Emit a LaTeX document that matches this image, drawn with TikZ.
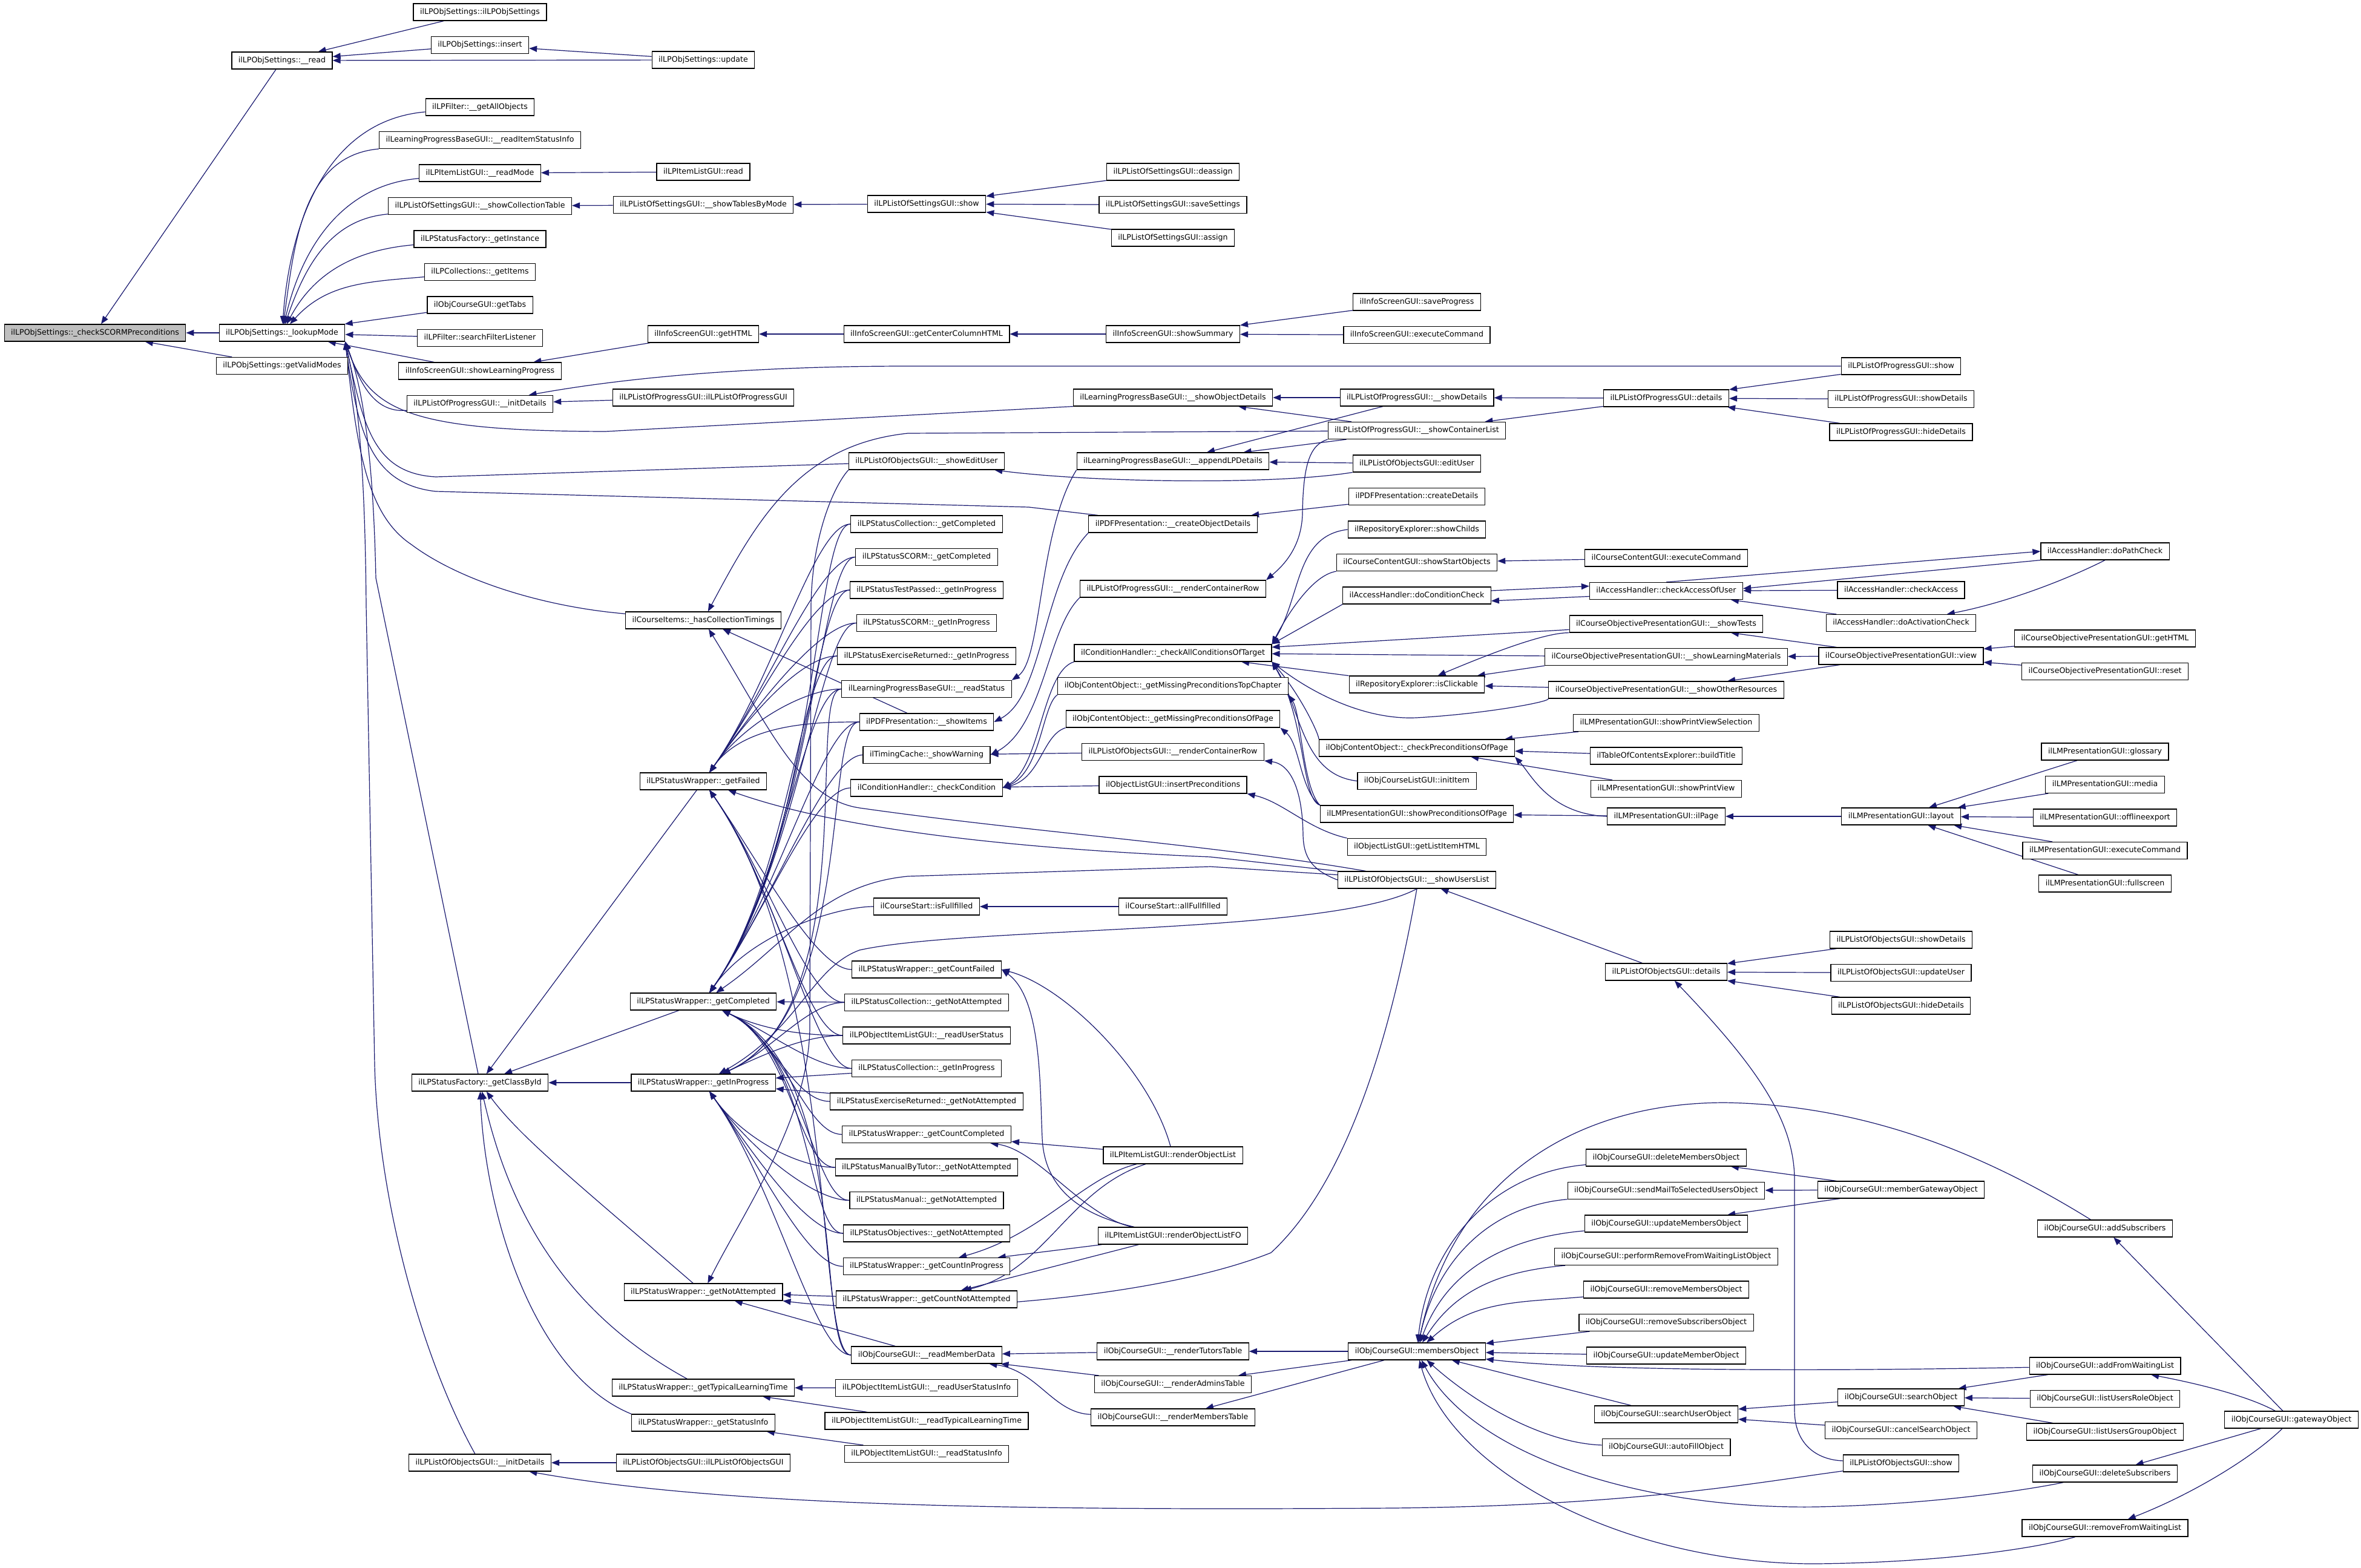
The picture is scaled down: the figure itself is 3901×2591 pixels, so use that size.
\documentclass[tikz,border=0pt]{standalone}
\usepackage{fontspec}
\setmainfont{DejaVu Sans}
\usetikzlibrary{positioning,arrows.meta}
\definecolor{edgeblue}{HTML}{191970}
\pgfdeclarelayer{background}
\pgfsetlayers{background,main}
\newcommand{\fnfont}{\fontsize{12.6pt}{14pt}\selectfont}

\begin{document}
\begin{tikzpicture}[x=1pt,y=1pt]

	\tikzstyle{fnbox}=[draw=black, line width=1.2pt, fill=white, rectangle, font=\fnfont, inner xsep=11pt, inner ysep=0pt, minimum height=28pt, text height=9.6pt, text depth=3pt];
	\tikzstyle{rootbox}=[fnbox, fill=black!25];
	\tikzstyle{call}=[draw=edgeblue, line width=1.2pt, <-];
	\tikzstyle{upfan}=[out=55, in=180, in max distance=60pt];
	\tikzstyle{downfan}=[out=-55, in=180, in max distance=60pt];

	\useasboundingbox (0,0) rectangle (3901,-2591);

    \begin{scope}[>={Triangle[length=13pt,width=10pt]}]

    	% root and settings
    	\node (root) at (157,-550) [rootbox]{ilLPObjSettings::\_checkSCORMPreconditions};
    	\node (read) at (466,-100) [fnbox]{ilLPObjSettings::\_\_read};
    	\node (lookup) at (466,-550) [fnbox]{ilLPObjSettings::\_lookupMode};
    	\node (validmodes) [below = 25.3pt of lookup, fnbox]{ilLPObjSettings::getValidModes};

    	\node (ctor) at (793,-20) [fnbox]{ilLPObjSettings::ilLPObjSettings};
    	\node (insert) [below = 25.3pt of ctor, fnbox]{ilLPObjSettings::insert};
    	\node (getallobj) at (793,-177) [fnbox]{ilLPFilter::\_\_getAllObjects};
    	\node (readitemstatus) [below = 25.3pt of getallobj, fnbox]{ilLearningProgressBaseGUI::\_\_readItemStatusInfo};
    	\node (readmode) [below = 25.3pt of readitemstatus, fnbox]{ilLPItemListGUI::\_\_readMode};
    	\node (showcolltable) [below = 25.3pt of readmode, fnbox]{ilLPListOfSettingsGUI::\_\_showCollectionTable};
    	\node (getinstance) [below = 25.3pt of showcolltable, fnbox]{ilLPStatusFactory::\_getInstance};
    	\node (getitems) [below = 25.3pt of getinstance, fnbox]{ilLPCollections::\_getItems};
    	\node (gettabs) [below = 25.3pt of getitems, fnbox]{ilObjCourseGUI::getTabs};
    	\node (searchfilter) [below = 25.3pt of gettabs, fnbox]{ilLPFilter::searchFilterListener};
    	\node (showlp) [below = 25.3pt of searchfilter, fnbox]{ilInfoScreenGUI::showLearningProgress};
    	\node (progressinit) [below = 25.3pt of showlp, fnbox]{ilLPListOfProgressGUI::\_\_initDetails};
    	\node (getclassbyid) at (793,-1789) [fnbox]{ilLPStatusFactory::\_getClassById};
    	\node (objectsinit) at (793,-2417) [fnbox]{ilLPListOfObjectsGUI::\_\_initDetails};

    	% wrappers
    	\node (update) at (1162,-99) [fnbox]{ilLPObjSettings::update};
    	\node (itemlistread) at (1162,-284) [fnbox]{ilLPItemListGUI::read};
    	\node (tablesbymode) [below = 25.3pt of itemlistread, fnbox]{ilLPListOfSettingsGUI::\_\_showTablesByMode};
    	\node (infogethtml) at (1162,-552) [fnbox]{ilInfoScreenGUI::getHTML};
    	\node (progressctor) at (1162,-657) [fnbox]{ilLPListOfProgressGUI::ilLPListOfProgressGUI};
    	\node (colltimings) at (1162,-1025) [fnbox]{ilCourseItems::\_hasCollectionTimings};
    	\node (wfailed) at (1162,-1291) [fnbox]{ilLPStatusWrapper::\_getFailed};
    	\node (wcompleted) at (1162,-1655) [fnbox]{ilLPStatusWrapper::\_getCompleted};
    	\node (winprogress) at (1162,-1789) [fnbox]{ilLPStatusWrapper::\_getInProgress};
    	\node (wnotattempted) at (1162,-2135) [fnbox]{ilLPStatusWrapper::\_getNotAttempted};
    	\node (wtypical) at (1162,-2293) [fnbox]{ilLPStatusWrapper::\_getTypicalLearningTime};
    	\node (wstatusinfo) at (1162,-2351) [fnbox]{ilLPStatusWrapper::\_getStatusInfo};
    	\node (objectsctor) at (1162,-2417) [fnbox]{ilLPListOfObjectsGUI::ilLPListOfObjectsGUI};

    	% status classes
    	\node (settingsshow) at (1531,-337) [fnbox]{ilLPListOfSettingsGUI::show};
    	\node (centercol) at (1531,-552) [fnbox]{ilInfoScreenGUI::getCenterColumnHTML};
    	\node (showedituser) at (1531,-762) [fnbox]{ilLPListOfObjectsGUI::\_\_showEditUser};
    	\node (collcompleted) at (1531,-866) [fnbox]{ilLPStatusCollection::\_getCompleted};
    	\node (scormcompleted) [below = 25.3pt of collcompleted, fnbox]{ilLPStatusSCORM::\_getCompleted};
    	\node (testinprogress) [below = 25.3pt of scormcompleted, fnbox]{ilLPStatusTestPassed::\_getInProgress};
    	\node (scorminprogress) [below = 25.3pt of testinprogress, fnbox]{ilLPStatusSCORM::\_getInProgress};
    	\node (exinprogress) [below = 25.3pt of scorminprogress, fnbox]{ilLPStatusExerciseReturned::\_getInProgress};
    	\node (readstatus) [below = 25.3pt of exinprogress, fnbox]{ilLearningProgressBaseGUI::\_\_readStatus};
    	\node (showitems) [below = 25.3pt of readstatus, fnbox]{ilPDFPresentation::\_\_showItems};
    	\node (showwarning) [below = 25.3pt of showitems, fnbox]{ilTimingCache::\_showWarning};
    	\node (checkcondition) [below = 25.3pt of showwarning, fnbox]{ilConditionHandler::\_checkCondition};
    	\node (isfullfilled) at (1531,-1498) [fnbox]{ilCourseStart::isFullfilled};
    	\node (countfailed) at (1531,-1602) [fnbox]{ilLPStatusWrapper::\_getCountFailed};
    	\node (collnotattempted) [below = 25.3pt of countfailed, fnbox]{ilLPStatusCollection::\_getNotAttempted};
    	\node (readuserstatus) [below = 25.3pt of collnotattempted, fnbox]{ilLPObjectItemListGUI::\_\_readUserStatus};
    	\node (collinprogress) [below = 25.3pt of readuserstatus, fnbox]{ilLPStatusCollection::\_getInProgress};
    	\node (exnotattempted) [below = 25.3pt of collinprogress, fnbox]{ilLPStatusExerciseReturned::\_getNotAttempted};
    	\node (countcompleted) [below = 25.3pt of exnotattempted, fnbox]{ilLPStatusWrapper::\_getCountCompleted};
    	\node (tutornotattempted) [below = 25.3pt of countcompleted, fnbox]{ilLPStatusManualByTutor::\_getNotAttempted};
    	\node (manualnotattempted) [below = 25.3pt of tutornotattempted, fnbox]{ilLPStatusManual::\_getNotAttempted};
    	\node (objnotattempted) [below = 25.3pt of manualnotattempted, fnbox]{ilLPStatusObjectives::\_getNotAttempted};
    	\node (countinprogress) [below = 25.3pt of objnotattempted, fnbox]{ilLPStatusWrapper::\_getCountInProgress};
    	\node (countnotattempted) [below = 25.3pt of countinprogress, fnbox]{ilLPStatusWrapper::\_getCountNotAttempted};
    	\node (readmemberdata) at (1531,-2239) [fnbox]{ilObjCourseGUI::\_\_readMemberData};
    	\node (readuserstatusinfo) [below = 25.3pt of readmemberdata, fnbox]{ilLPObjectItemListGUI::\_\_readUserStatusInfo};
    	\node (readtypical) [below = 25.3pt of readuserstatusinfo, fnbox]{ilLPObjectItemListGUI::\_\_readTypicalLearningTime};
    	\node (readstatusinfo) [below = 25.3pt of readtypical, fnbox]{ilLPObjectItemListGUI::\_\_readStatusInfo};

    	% fifth column
    	\node (deassign) at (1938,-284) [fnbox]{ilLPListOfSettingsGUI::deassign};
    	\node (savesettings) [below = 25.3pt of deassign, fnbox]{ilLPListOfSettingsGUI::saveSettings};
    	\node (assign) [below = 25.3pt of savesettings, fnbox]{ilLPListOfSettingsGUI::assign};
    	\node (showsummary) at (1938,-552) [fnbox]{ilInfoScreenGUI::showSummary};
    	\node (showobjdetails) at (1938,-657) [fnbox]{ilLearningProgressBaseGUI::\_\_showObjectDetails};
    	\node (appendlp) at (1938,-762) [fnbox]{ilLearningProgressBaseGUI::\_\_appendLPDetails};
    	\node (createobjdetails) at (1938,-866) [fnbox]{ilPDFPresentation::\_\_createObjectDetails};
    	\node (progressrow) at (1938,-973) [fnbox]{ilLPListOfProgressGUI::\_\_renderContainerRow};
    	\node (checkallcond) at (1938,-1079) [fnbox]{ilConditionHandler::\_checkAllConditionsOfTarget};
    	\node (missingtop) [below = 25.3pt of checkallcond, fnbox]{ilObjContentObject::\_getMissingPreconditionsTopChapter};
    	\node (missingpage) [below = 25.3pt of missingtop, fnbox]{ilObjContentObject::\_getMissingPreconditionsOfPage};
    	\node (objectsrow) [below = 25.3pt of missingpage, fnbox]{ilLPListOfObjectsGUI::\_\_renderContainerRow};
    	\node (insertprecond) [below = 25.3pt of objectsrow, fnbox]{ilObjectListGUI::insertPreconditions};
    	\node (allfullfilled) at (1938,-1498) [fnbox]{ilCourseStart::allFullfilled};
    	\node (renderlist) at (1938,-1909) [fnbox]{ilLPItemListGUI::renderObjectList};
    	\node (renderlistfo) at (1938,-2042) [fnbox]{ilLPItemListGUI::renderObjectListFO};
    	\node (tutorstable) at (1938,-2233) [fnbox]{ilObjCourseGUI::\_\_renderTutorsTable};
    	\node (adminstable) [below = 25.3pt of tutorstable, fnbox]{ilObjCourseGUI::\_\_renderAdminsTable};
    	\node (memberstable) [below = 25.3pt of adminstable, fnbox]{ilObjCourseGUI::\_\_renderMembersTable};

    	% sixth column
    	\node (saveprogress) at (2341,-499) [fnbox]{ilInfoScreenGUI::saveProgress};
    	\node (infoexec) [below = 25.3pt of saveprogress, fnbox]{ilInfoScreenGUI::executeCommand};
    	\node (progressshowdetails) at (2341,-657) [fnbox]{ilLPListOfProgressGUI::\_\_showDetails};
    	\node (containerlist) [below = 25.3pt of progressshowdetails, fnbox]{ilLPListOfProgressGUI::\_\_showContainerList};
    	\node (edituser) [below = 25.3pt of containerlist, fnbox]{ilLPListOfObjectsGUI::editUser};
    	\node (createdetails) [below = 25.3pt of edituser, fnbox]{ilPDFPresentation::createDetails};
    	\node (showchilds) [below = 25.3pt of createdetails, fnbox]{ilRepositoryExplorer::showChilds};
    	\node (startobjects) [below = 25.3pt of showchilds, fnbox]{ilCourseContentGUI::showStartObjects};
    	\node (condcheck) [below = 25.3pt of startobjects, fnbox]{ilAccessHandler::doConditionCheck};
    	\node (isclickable) at (2341,-1131) [fnbox]{ilRepositoryExplorer::isClickable};
    	\node (checkprecondpage) at (2341,-1236) [fnbox]{ilObjContentObject::\_checkPreconditionsOfPage};
    	\node (inititem) [below = 25.3pt of checkprecondpage, fnbox]{ilObjCourseListGUI::initItem};
    	\node (showprecond) [below = 25.3pt of inititem, fnbox]{ilLMPresentationGUI::showPreconditionsOfPage};
    	\node (listitemhtml) [below = 25.3pt of showprecond, fnbox]{ilObjectListGUI::getListItemHTML};
    	\node (showuserslist) [below = 25.3pt of listitemhtml, fnbox]{ilLPListOfObjectsGUI::\_\_showUsersList};
    	\node (membersobj) at (2341,-2233) [fnbox]{ilObjCourseGUI::membersObject};

    	% seventh column
    	\node (progressdetails) at (2753,-658) [fnbox]{ilLPListOfProgressGUI::details};
    	\node (contentexec) at (2753,-922) [fnbox]{ilCourseContentGUI::executeCommand};
    	\node (checkaccessofuser) [below = 25.3pt of contentexec, fnbox]{ilAccessHandler::checkAccessOfUser};
    	\node (showtests) [below = 25.3pt of checkaccessofuser, fnbox]{ilCourseObjectivePresentationGUI::\_\_showTests};
    	\node (showlm) [below = 25.3pt of showtests, fnbox]{ilCourseObjectivePresentationGUI::\_\_showLearningMaterials};
    	\node (showother) [below = 25.3pt of showlm, fnbox]{ilCourseObjectivePresentationGUI::\_\_showOtherResources};
    	\node (printviewsel) [below = 25.3pt of showother, fnbox]{ilLMPresentationGUI::showPrintViewSelection};
    	\node (buildtitle) [below = 25.3pt of printviewsel, fnbox]{ilTableOfContentsExplorer::buildTitle};
    	\node (printview) [below = 25.3pt of buildtitle, fnbox]{ilLMPresentationGUI::showPrintView};
    	\node (ilpage) at (2753,-1349) [fnbox]{ilLMPresentationGUI::ilPage};
    	\node (objectsdetails) at (2753,-1606) [fnbox]{ilLPListOfObjectsGUI::details};
    	\node (deletemembers) at (2753,-1913) [fnbox]{ilObjCourseGUI::deleteMembersObject};
    	\node (sendmail) [below = 25.3pt of deletemembers, fnbox]{ilObjCourseGUI::sendMailToSelectedUsersObject};
    	\node (updatemembers) [below = 25.3pt of sendmail, fnbox]{ilObjCourseGUI::updateMembersObject};
    	\node (performremove) [below = 25.3pt of updatemembers, fnbox]{ilObjCourseGUI::performRemoveFromWaitingListObject};
    	\node (removemembers) [below = 25.3pt of performremove, fnbox]{ilObjCourseGUI::removeMembersObject};
    	\node (removesubscribers) [below = 25.3pt of removemembers, fnbox]{ilObjCourseGUI::removeSubscribersObject};
    	\node (updatemember) [below = 25.3pt of removesubscribers, fnbox]{ilObjCourseGUI::updateMemberObject};
    	\node (searchuser) at (2753,-2337) [fnbox]{ilObjCourseGUI::searchUserObject};
    	\node (autofill) [below = 25.3pt of searchuser, fnbox]{ilObjCourseGUI::autoFillObject};

    	% eighth column
    	\node (progressshow) at (3141,-605) [fnbox]{ilLPListOfProgressGUI::show};
    	\node (progressshowdetails2) [below = 25.3pt of progressshow, fnbox]{ilLPListOfProgressGUI::showDetails};
    	\node (progresshidedetails) [below = 25.3pt of progressshowdetails2, fnbox]{ilLPListOfProgressGUI::hideDetails};
    	\node (checkaccess) at (3141,-975) [fnbox]{ilAccessHandler::checkAccess};
    	\node (activationcheck) [below = 25.3pt of checkaccess, fnbox]{ilAccessHandler::doActivationCheck};
    	\node (objview) [below = 25.3pt of activationcheck, fnbox]{ilCourseObjectivePresentationGUI::view};
    	\node (layout) at (3141,-1349) [fnbox]{ilLMPresentationGUI::layout};
    	\node (objectsshowdetails) at (3141,-1553) [fnbox]{ilLPListOfObjectsGUI::showDetails};
    	\node (objectsupdateuser) [below = 25.3pt of objectsshowdetails, fnbox]{ilLPListOfObjectsGUI::updateUser};
    	\node (objectshidedetails) [below = 25.3pt of objectsupdateuser, fnbox]{ilLPListOfObjectsGUI::hideDetails};
    	\node (membergateway) at (3141,-1966) [fnbox]{ilObjCourseGUI::memberGatewayObject};
    	\node (searchobj) at (3141,-2309) [fnbox]{ilObjCourseGUI::searchObject};
    	\node (cancelsearch) [below = 25.3pt of searchobj, fnbox]{ilObjCourseGUI::cancelSearchObject};
    	\node (objectsshow) [below = 25.3pt of cancelsearch, fnbox]{ilLPListOfObjectsGUI::show};

    	% ninth column
    	\node (pathcheck) at (3478,-911) [fnbox]{ilAccessHandler::doPathCheck};
    	\node (objgethtml) at (3478,-1055) [fnbox]{ilCourseObjectivePresentationGUI::getHTML};
    	\node (objreset) [below = 25.3pt of objgethtml, fnbox]{ilCourseObjectivePresentationGUI::reset};
    	\node (glossary) at (3478,-1242) [fnbox]{ilLMPresentationGUI::glossary};
    	\node (media) [below = 25.3pt of glossary, fnbox]{ilLMPresentationGUI::media};
    	\node (offline) [below = 25.3pt of media, fnbox]{ilLMPresentationGUI::offlineexport};
    	\node (lmexec) [below = 25.3pt of offline, fnbox]{ilLMPresentationGUI::executeCommand};
    	\node (fullscreen) [below = 25.3pt of lmexec, fnbox]{ilLMPresentationGUI::fullscreen};
    	\node (addsubscribers) at (3478,-2030) [fnbox]{ilObjCourseGUI::addSubscribers};
    	\node (addfromwaiting) at (3478,-2257) [fnbox]{ilObjCourseGUI::addFromWaitingList};
    	\node (listrole) [below = 25.3pt of addfromwaiting, fnbox]{ilObjCourseGUI::listUsersRoleObject};
    	\node (listgroup) [below = 25.3pt of listrole, fnbox]{ilObjCourseGUI::listUsersGroupObject};
    	\node (deletesubscribers) at (3478,-2435) [fnbox]{ilObjCourseGUI::deleteSubscribers};
    	\node (removefromwaiting) at (3478,-2525) [fnbox]{ilObjCourseGUI::removeFromWaitingList};
    	\node (gateway) at (3786,-2346) [fnbox]{ilObjCourseGUI::gatewayObject};

    	\begin{pgfonlayer}{background}
    	\fill[white] (0,0) rectangle (3901,-2591);

    	% settings part
    	\draw[call] (root) -- (read);
    	\draw[call] (root) -- (lookup);
    	\draw[call] (root) -- (validmodes);
    	\draw[call] (read) -- (ctor);
    	\draw[call] (read) -- (insert);
    	\draw[call] (read) -- (update);
    	\draw[call] (insert) -- (update);

    	\draw[call] (lookup) to[out=86,in=185] (getallobj);
    	\draw[call] (lookup) to[out=82,in=185] (readitemstatus);
    	\draw[call] (lookup) to[out=77,in=185] (readmode);
    	\draw[call] (lookup) to[out=71,in=185] (showcolltable);
    	\draw[call] (lookup) to[out=62,in=185] (getinstance);
    	\draw[call] (lookup) to[out=48,in=185] (getitems);
    	\draw[call] (lookup) -- (gettabs);
    	\draw[call] (lookup) -- (searchfilter);
    	\draw[call] (lookup) -- (showlp);
    	\draw[call] (lookup.south east) to[out=-70,in=185] (progressinit);
    	\draw[call] (lookup.south east) .. controls (610,-680) and (680,-712) .. (1000,-713) -- (showobjdetails.south west);
    	\draw[call] (lookup.south east) .. controls (600,-700) and (615,-782) .. (720,-788) -- (showedituser);
    	\draw[call] (lookup.south east) .. controls (592,-720) and (615,-800) .. (720,-812) -- (1700,-838) -- (createobjdetails);
    	\draw[call] (lookup.south east) .. controls (590,-740) and (605,-850) .. (680,-900) .. controls (760,-960) and (900,-1003) .. (colltimings);
    	\draw[call] (lookup.south east) .. controls (600,-640) and (617,-760) .. (621,-955) -- (getclassbyid);
    	\draw[call] (lookup.south east) .. controls (590,-650) and (603,-760) .. (605,-1000) -- (619,-1760) .. controls (625,-1990) and (700,-2250) .. (objectsinit);

    	\draw[call] (readmode) -- (itemlistread);
    	\draw[call] (showcolltable) -- (tablesbymode);
    	\draw[call] (tablesbymode) -- (settingsshow);
    	\draw[call] (settingsshow) -- (deassign);
    	\draw[call] (settingsshow) -- (savesettings);
    	\draw[call] (settingsshow) -- (assign);
    	\draw[call] (showlp) -- (infogethtml);
    	\draw[call] (infogethtml) -- (centercol);
    	\draw[call] (centercol) -- (showsummary);
    	\draw[call] (showsummary) -- (saveprogress);
    	\draw[call] (showsummary) -- (infoexec);
    	\draw[call] (progressinit) -- (progressctor);
    	\draw[call] (progressinit) .. controls (1000,-630) and (1200,-605) .. (1500,-605) -- (progressshow);

    	% progress details
    	\draw[call] (showobjdetails) -- (progressshowdetails);
    	\draw[call] (showobjdetails) -- (containerlist);
    	\draw[call] (progressshowdetails) -- (progressdetails);
    	\draw[call] (containerlist) -- (progressdetails);
    	\draw[call] (progressdetails) -- (progressshow);
    	\draw[call] (progressdetails) -- (progressshowdetails2);
    	\draw[call] (progressdetails) -- (progresshidedetails);
    	\draw[call] (appendlp) -- (progressshowdetails);
    	\draw[call] (appendlp) -- (containerlist);
    	\draw[call] (appendlp) -- (edituser);
    	\draw[call] (showedituser) .. controls (1800,-797) and (2100,-802) .. (edituser.south west);
    	\draw[call] (createobjdetails) -- (createdetails);
    	\draw[call] (colltimings) .. controls (1250,-860) and (1320,-735) .. (1500,-716) -- (containerlist);
    	\draw[call] (progressrow.north east) .. controls (2120,-935) and (2150,-905) .. (2152,-850) .. controls (2153,-765) and (2165,-735) .. (containerlist.south west);

    	% into the status column
    	\draw[call] (readstatus.north east) .. controls (1722,-1090) and (1715,-880) .. (appendlp.south west);
    	\draw[call] (showitems.east) .. controls (1725,-1150) and (1722,-960) .. (createobjdetails.south west);
    	\draw[call] (showwarning.east) .. controls (1725,-1200) and (1730,-1040) .. (progressrow.south west);
    	\draw[call] (showwarning) -- (objectsrow);
    	\draw[call] (checkcondition.east) .. controls (1720,-1265) and (1722,-1110) .. (checkallcond.south west);
    	\draw[call] (checkcondition.east) .. controls (1720,-1275) and (1722,-1165) .. (missingtop.south west);
    	\draw[call] (checkcondition.east) .. controls (1720,-1285) and (1722,-1215) .. (missingpage.south west);
    	\draw[call] (checkcondition) -- (insertprecond);
    	\draw[call] (isfullfilled) -- (allfullfilled);

    	% conditions
    	\draw[call] (checkallcond.north east) .. controls (2150,-985) and (2140,-885) .. (showchilds.west);
    	\draw[call] (checkallcond.north east) .. controls (2130,-1010) and (2170,-950) .. (startobjects.south west);
    	\draw[call] (checkallcond.north east) -- (condcheck.south west);
    	\draw[call] (checkallcond) -- (showtests);
    	\draw[call] (checkallcond) -- (showlm);
    	\draw[call] (checkallcond) -- (isclickable);
    	\draw[call] (checkallcond.south east) .. controls (2160,-1140) and (2250,-1190) .. (2340,-1186) .. controls (2450,-1180) and (2560,-1160) .. (showother.south west);
    	\draw[call] (checkallcond.south east) .. controls (2150,-1150) and (2180,-1215) .. (checkprecondpage.north west);
    	\draw[call] (checkallcond.south east) .. controls (2150,-1170) and (2150,-1280) .. (inititem.west);
    	\draw[call] (checkallcond.south east) .. controls (2158,-1190) and (2150,-1320) .. (showprecond.north west);
    	\draw[call] (missingtop.south east) .. controls (2150,-1180) and (2152,-1300) .. (showprecond.north west);
    	\draw[call] (missingpage.south east) .. controls (2148,-1230) and (2148,-1305) .. (showprecond.north west);
    	\draw[call] (objectsrow.south east) .. controls (2130,-1262) and (2152,-1300) .. (2153,-1380) .. controls (2154,-1420) and (2170,-1438) .. (showuserslist.west);
    	\draw[call] (insertprecond.south east) .. controls (2120,-1325) and (2160,-1370) .. (listitemhtml.north west);

    	\draw[call] (startobjects) -- (contentexec);
    	\draw[call] ([yshift=-9pt]condcheck.east) -- ([yshift=-9pt]checkaccessofuser.west);
    	\draw[call] ([yshift=8pt]checkaccessofuser.west) -- ([yshift=8pt]condcheck.east);
    	\draw[call] (isclickable) .. controls (2450,-1085) and (2550,-1045) .. (showtests.south west);
    	\draw[call] (isclickable) -- (showlm.south west);
    	\draw[call] (isclickable) -- (showother);
    	\draw[call] (checkprecondpage) -- (printviewsel);
    	\draw[call] (checkprecondpage) -- (buildtitle);
    	\draw[call] (checkprecondpage) -- (printview);
    	\draw[call] (checkprecondpage.south east) .. controls (2530,-1280) and (2560,-1345) .. (ilpage.west);
    	\draw[call] (showprecond) -- (ilpage);
    	\draw[call] (showuserslist) -- (objectsdetails);

    	\draw[call] (checkaccessofuser) -- (checkaccess);
    	\draw[call] (checkaccessofuser) -- (activationcheck);
    	\draw[call] ([yshift=4pt]checkaccessofuser.east) -- (pathcheck.south west);
    	\draw[call] (pathcheck.west) -- (checkaccessofuser.north);
    	\draw[call] (activationcheck) .. controls (3320,-995) and (3420,-955) .. (pathcheck.south);
    	\draw[call] (showtests) -- (objview);
    	\draw[call] (showlm) -- (objview);
    	\draw[call] (showother) -- (objview);
    	\draw[call] (objview) -- (objgethtml);
    	\draw[call] (objview) -- (objreset);
    	\draw[call] (ilpage) -- (layout);
    	\foreach \caller in {glossary,media,offline,lmexec,fullscreen}
    		\draw[call] (layout) -- (\caller);
    	\foreach \caller in {objectsshowdetails,objectsupdateuser,objectshidedetails}
    		\draw[call] (objectsdetails) -- (\caller);
    	\draw[call] (objectsdetails) .. controls (2900,-1760) and (2965,-1850) .. (2965,-1950) -- (2965,-2330) .. controls (2965,-2385) and (3000,-2412) .. (objectsshow);

    	% status wrappers
    	\foreach \caller in {collcompleted,scormcompleted,testinprogress,scorminprogress,exinprogress,readstatus,showitems}
    		\draw[call] (wfailed) to[upfan] (\caller);
    	\foreach \caller in {countfailed,collnotattempted,readuserstatus,collinprogress,readmemberdata}
    		\draw[call] (wfailed) to[downfan] (\caller);
    	\foreach \caller in {collcompleted,scormcompleted,testinprogress,scorminprogress,exinprogress,readstatus,showitems,showwarning,checkcondition,isfullfilled}
    		\draw[call] (wcompleted) to[upfan] (\caller);
    	\draw[call] (wcompleted) -- (collnotattempted);
    	\foreach \caller in {readuserstatus,collinprogress,exnotattempted,countcompleted,tutornotattempted,manualnotattempted,objnotattempted,readmemberdata}
    		\draw[call] (wcompleted) to[downfan, out=-25] (\caller);
    	\foreach \caller in {readstatus,showitems,collnotattempted,readuserstatus}
    		\draw[call] (winprogress) to[upfan, out=25] (\caller);
    	\draw[call] (winprogress) -- (collinprogress);
    	\draw[call] (winprogress) -- (exnotattempted);
    	\foreach \caller in {tutornotattempted,manualnotattempted,objnotattempted,countinprogress,readmemberdata}
    		\draw[call] (winprogress) to[downfan] (\caller);
    	\draw[call] (wnotattempted) -- (countnotattempted);
    	\draw[call] (wnotattempted) -- (readmemberdata);
    	\draw[call] (wnotattempted) .. controls (1230,-2000) and (1335,-1850) .. (1338,-1700) -- (1340,-1000) .. controls (1342,-880) and (1380,-800) .. (showedituser.south west);

    	\draw[call] (getclassbyid) -- (wfailed);
    	\draw[call] (getclassbyid) -- (wcompleted);
    	\draw[call] (getclassbyid) -- (winprogress);
    	\draw[call] (getclassbyid) .. controls (860,-1880) and (960,-1960) .. (wnotattempted);
    	\draw[call] (getclassbyid) .. controls (830,-1950) and (900,-2150) .. (wtypical);
    	\draw[call] (getclassbyid) .. controls (800,-2000) and (880,-2270) .. (wstatusinfo.north west);
    	\draw[call] (wtypical) -- (readuserstatusinfo);
    	\draw[call] (wtypical) -- (readtypical);
    	\draw[call] (wstatusinfo) -- (readstatusinfo);
    	\draw[call] (objectsinit) -- (objectsctor);
    	\draw[call] (objectsinit) .. controls (1200,-2490) and (1700,-2496) .. (2300,-2492) .. controls (2700,-2488) and (2900,-2450) .. (objectsshow);

    	% users list
    	\draw[call] (colltimings) -- (showitems);
    	\draw[call] (colltimings) .. controls (1270,-1200) and (1320,-1320) .. (1420,-1335) .. controls (1700,-1375) and (2000,-1395) .. (showuserslist);
    	\draw[call] (wfailed) .. controls (1300,-1340) and (1500,-1395) .. (2000,-1416) -- (showuserslist);
    	\draw[call] (wcompleted) .. controls (1300,-1560) and (1355,-1462) .. (1500,-1448) -- (2000,-1432) -- (showuserslist);
    	\draw[call] (winprogress) .. controls (1320,-1700) and (1340,-1600) .. (1420,-1570) .. controls (1600,-1530) and (2200,-1545) .. (showuserslist.south);
    	\draw[call] (wnotattempted.south east) .. controls (1500,-2175) and (1900,-2150) .. (2100,-2070) .. controls (2230,-1950) and (2300,-1700) .. (showuserslist.south);

    	% counters
    	\draw[call] (countfailed.east) .. controls (1760,-1630) and (1900,-1770) .. (renderlist);
    	\draw[call] (countfailed.east) .. controls (1722,-1650) and (1718,-1800) .. (1722,-1880) .. controls (1726,-1985) and (1820,-2015) .. (renderlistfo);
    	\draw[call] (countcompleted) -- (renderlist);
    	\draw[call] (countcompleted) .. controls (1715,-1900) and (1790,-2010) .. (renderlistfo);
    	\draw[call] (countinprogress) .. controls (1722,-2040) and (1790,-1945) .. (renderlist);
    	\draw[call] (countinprogress) -- (renderlistfo);
    	\draw[call] (countnotattempted) .. controls (1728,-2100) and (1765,-1965) .. (renderlist);
    	\draw[call] (countnotattempted) -- (renderlistfo);

    	% course members
    	\draw[call] (readmemberdata) -- (tutorstable);
    	\draw[call] (readmemberdata) -- (adminstable);
    	\draw[call] (readmemberdata) .. controls (1715,-2265) and (1740,-2335) .. (memberstable);
    	\draw[call] (tutorstable) -- (membersobj);
    	\draw[call] (adminstable) -- (membersobj);
    	\draw[call] (memberstable) -- (membersobj);

    	\draw[call] (membersobj) to[out=84,in=185] (deletemembers);
    	\draw[call] (membersobj) to[out=78,in=185] (sendmail);
    	\draw[call] (membersobj) to[out=70,in=185] (updatemembers);
    	\draw[call] (membersobj) to[out=58,in=185] (performremove);
    	\draw[call] (membersobj) to[out=42,in=185] (removemembers);
    	\draw[call] (membersobj) -- (removesubscribers);
    	\draw[call] (membersobj) -- (updatemember);
    	\draw[call] (membersobj) -- (searchuser);
    	\draw[call] (membersobj) .. controls (2450,-2330) and (2560,-2385) .. (autofill);
    	\draw[call] (membersobj) .. controls (2400,-1950) and (2600,-1822) .. (2850,-1822) .. controls (3100,-1826) and (3300,-1920) .. (addsubscribers);
    	\draw[call] (membersobj) .. controls (2600,-2262) and (2900,-2268) .. (addfromwaiting);
    	\draw[call] (membersobj) .. controls (2430,-2400) and (2700,-2494) .. (3000,-2490) .. controls (3200,-2486) and (3360,-2460) .. (deletesubscribers);
    	\draw[call] (membersobj) .. controls (2400,-2440) and (2700,-2585) .. (3000,-2584) .. controls (3200,-2582) and (3360,-2560) .. (removefromwaiting);

    	\draw[call] (deletemembers) -- (membergateway);
    	\draw[call] (sendmail) -- (membergateway);
    	\draw[call] (updatemembers) -- (membergateway);
    	\draw[call] (searchuser) -- (searchobj);
    	\draw[call] (searchuser) -- (cancelsearch);
    	\draw[call] (searchobj) -- (addfromwaiting);
    	\draw[call] (searchobj) -- (listrole);
    	\draw[call] (searchobj) -- (listgroup);
    	\draw[call] (addsubscribers) -- (gateway);
    	\draw[call] (addfromwaiting) .. controls (3650,-2290) and (3720,-2310) .. (gateway);
    	\draw[call] (deletesubscribers) -- (gateway);
    	\draw[call] (removefromwaiting) .. controls (3620,-2470) and (3720,-2410) .. (gateway);
    	\end{pgfonlayer}

    \end{scope}
\end{tikzpicture}
\end{document}
